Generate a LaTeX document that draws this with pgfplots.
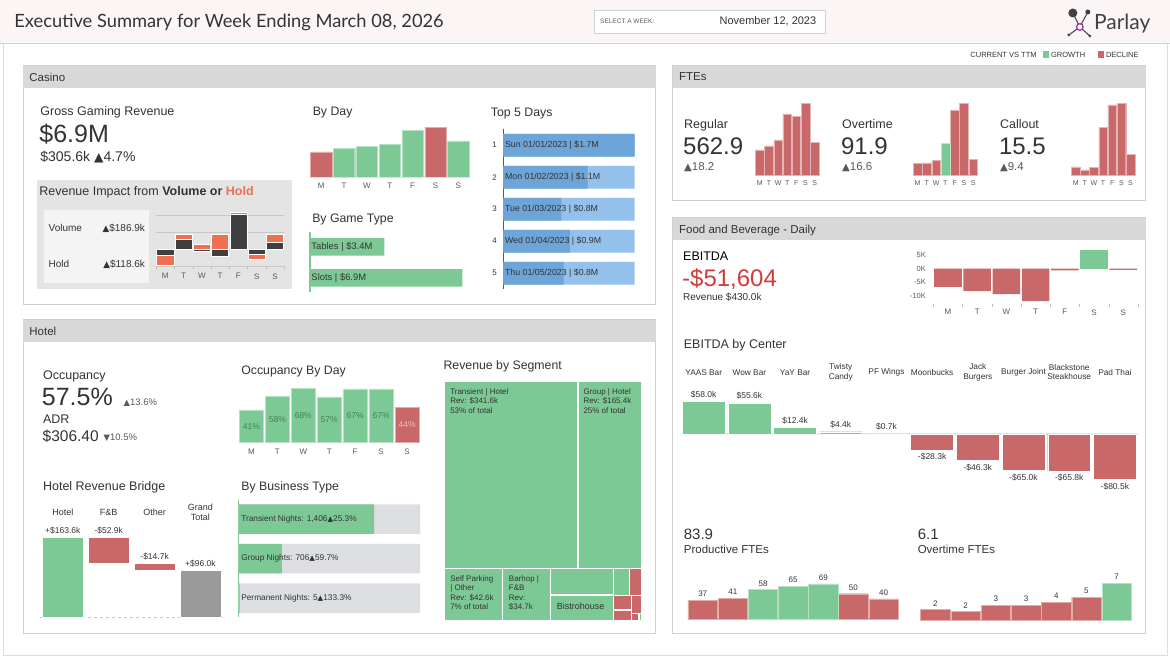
\documentclass[border=0pt]{standalone}
\usepackage{fontspec}
\setmainfont{Liberation Sans}
\newfontfamily\titlefont{Lato}
\newfontfamily\sym{DejaVu Sans}
\usepackage{graphicx}
\usepackage{pgfplots}
\pgfplotsset{compat=1.18}
\definecolor{grn}{HTML}{7DC995}
\definecolor{red1}{HTML}{C96868}
\definecolor{dk}{HTML}{404040}
\definecolor{org}{HTML}{EE7050}
\definecolor{bl1}{HTML}{93C1EC}
\definecolor{bl2}{HTML}{6EA5D9}
\definecolor{bln}{HTML}{2E5E8C}
\definecolor{txt}{HTML}{333333}
\definecolor{txt2}{HTML}{5A5A5A}
\definecolor{hdr}{HTML}{D8D8D8}
\definecolor{pbord}{HTML}{D0D0D0}
\definecolor{ebred}{HTML}{D23B3B}
\definecolor{hbg}{HTML}{FCF5F6}
\definecolor{gbox}{HTML}{E4E4E4}
\definecolor{gbox2}{HTML}{F4F4F4}
\definecolor{tk}{HTML}{BDBDBD}
\definecolor{gridc}{HTML}{C8C8C8}
\definecolor{bgbar}{HTML}{DCDEE2}
\definecolor{gtot}{HTML}{9A9A9A}
\definecolor{gtxt}{HTML}{467F5A}
\definecolor{ptxt}{HTML}{F6BDBD}
\definecolor{zl}{HTML}{E3E3E3}
\definecolor{purp}{HTML}{A0309A}
\newcommand{\fs}[2]{\fontsize{#1}{#2}\selectfont}
\newcommand{\up}{{\sym\scalebox{0.88}{▲}}}
\newcommand{\dn}{{\sym\scalebox{0.88}{▼}}}
\newcommand{\tx}[4][]{\node[anchor=west,inner sep=0,text depth=0pt,text=txt,#1] at (#2,658-#3) {#4};}
\newcommand{\panel}[5]{%
  \draw[pbord,line width=1pt,fill=white] (#1,658-#2) rectangle (#3,658-#4);
  \fill[hdr] (#1,658-#2) rectangle (#3,658-#2-22);
  \node[anchor=west,inner sep=0,text depth=0pt,text=txt] at (#1+6,658-#2-11) {\fs{11.5}{12}#5};}
\newcommand{\rbar}[5]{\addplot[fill=#5,draw=white,line width=0.5pt] coordinates {(#1,#3) (#2,#3) (#2,#4) (#1,#4)} -- cycle;}
\newcommand{\tbox}[5]{\addplot[fill=#5,draw=white,line width=1.2pt] coordinates {(#1,#3) (#2,#3) (#2,#4) (#1,#4)} -- cycle;}
\pgfplotsset{
  base/.style={scale only axis, clip=false, axis line style={draw=none},
    major tick length=0pt, tick align=outside, xtick pos=lower, ytick pos=left,
    ticklabel style={font=\fs{8}{8}, text=txt2},
    /pgf/number format/assume math mode=true, xtick=\empty, ytick=\empty},
  days/.style={xmin=0.5, xmax=7.5, xtick={1,...,7}, xticklabels={M,T,W,T,F,S,S}},
}
\begin{document}
\begin{tikzpicture}[x=1pt,y=1pt]
\fill[white] (0,0) rectangle (1170,658);
% header
\fill[hbg] (0,658) rectangle (1170,658-43);
\draw[pbord] (0,658-43.5) -- (1170,658-43.5);
\draw[pbord!70] (3,658-44) -- (3,658-655) -- (1167,658-655) -- (1167,658-44);
\tx{14}{21}{\titlefont\fs{18.3}{19}Executive Summary for Week Ending March 08, 2026}
\draw[pbord,fill=white] (594,658-10) rectangle (825,658-33);
\tx[text=txt2]{600}{21.5}{\fs{6.5}{7}SELECT A WEEK:}
\node[inner sep=0,text=txt] at (768,658-21) {\fs{11}{11}November 12, 2023};
% logo
\draw[dk,line width=1pt] (1073,658-13) -- (1080,658-27) -- (1088,658-12);
\draw[dk,line width=1pt] (1080,658-27) -- (1069,658-35);
\draw[dk,line width=1pt] (1080,658-27) -- (1090,658-36);
\fill[dk] (1073,658-13) circle (4.5);
\fill[dk] (1088,658-12) circle (2.5);
\fill[dk] (1069,658-35) circle (1.6);
\fill[dk] (1090,658-36) circle (1.6);
\draw[purp,fill=white,line width=1.2pt] (1080,658-27) circle (3.3);
\tx[text=dk]{1094}{22}{\titlefont\fs{21}{21}Parlay}
% legend
\node[anchor=east,inner sep=0,text=txt] at (1037,658-55) {\fs{7.5}{8}CURRENT VS TTM};
\fill[grn] (1043,658-51.5) rectangle (1049,658-58.5);
\tx{1051}{55}{\fs{7.5}{8}GROWTH}
\fill[red1] (1098,658-51.5) rectangle (1104,658-58.5);
\tx{1106}{55}{\fs{7.5}{8}DECLINE}
% panels
\panel{23}{66}{656}{305}{Casino}
\panel{23}{320}{656}{634}{Hotel}
\panel{673}{66}{1146}{201}{FTEs}
\panel{673}{218}{1146}{634}{Food and Beverage - Daily}

%================ CASINO
\tx{40}{111}{\fs{12.5}{13}Gross Gaming Revenue}
\tx{39}{133}{\fs{25}{25}\$6.9M}
\tx{40}{156}{\fs{14}{14}\$305.6k \up4.7\%}
\fill[gbox] (36.7,658-180) rectangle (291.5,658-289.3);
\fill[gbox2] (44,658-210) rectangle (149,658-283.3);
\tx{39}{191}{\fs{12.5}{13}Revenue Impact from \textbf{Volume or} \textcolor{org}{\textbf{Hold}}}
\tx{48.3}{228}{\fs{10}{10}Volume}
\node[anchor=east,inner sep=0,text depth=0pt,text=txt] at (145,658-228) {\fs{10}{10}\up\$186.9k};
\tx{48.3}{264}{\fs{10}{10}Hold}
\node[anchor=east,inner sep=0,text depth=0pt,text=txt] at (145,658-264) {\fs{10}{10}\up\$118.6k};

\begin{axis}[base, days, at={(156pt,658pt-266pt)}, anchor=south west, width=128, height=54,
  ymin=-17, ymax=37, ytick={-17,0,17,34}, yticklabels={}, ymajorgrids,
  grid style={draw=gridc,line width=0.6pt},
  extra x ticks={0.5,1.5,...,7.5}, extra x tick labels={},
  extra x tick style={major tick length=3pt, major tick style={draw=tk}},
  xticklabel style={yshift=-4pt}]
\rbar{0.53}{1.47}{0}{-6}{dk}
\rbar{0.53}{1.47}{-6}{-16.7}{org}
\rbar{1.53}{2.47}{0}{10}{dk}
\rbar{1.53}{2.47}{10}{14.7}{org}
\rbar{2.53}{3.47}{0}{5}{org}
\rbar{2.53}{3.47}{0}{-2}{dk}
\rbar{3.53}{4.47}{0}{15}{org}
\rbar{3.53}{4.47}{0}{-7.7}{dk}
\rbar{4.53}{5.47}{0}{34.7}{dk}
\rbar{4.53}{5.47}{34.7}{36.7}{org}
\rbar{5.53}{6.47}{0}{-5}{dk}
\rbar{5.53}{6.47}{-5}{-10}{org}
\rbar{6.53}{7.47}{0}{6.7}{dk}
\rbar{6.53}{7.47}{6.7}{14.7}{org}
\end{axis}

\tx{312.5}{111}{\fs{12.3}{13}By Day}
\begin{axis}[base, days, at={(309.7pt,658pt-177pt)}, anchor=south west, width=160, height=50,
  ymin=0, ymax=50, xticklabel style={yshift=-2.5pt}]
\addplot[ybar, bar width=21.3pt, bar shift=0pt, fill=red1, draw=red1!55!white] coordinates {(1,25) (6,49.7)};
\addplot[ybar, bar width=21.3pt, bar shift=0pt, fill=grn, draw=grn!55!white] coordinates {(2,28.3) (3,30.3) (4,32.3) (5,46.3) (7,36)};
\draw[gray!25] (rel axis cs:0,0) -- (rel axis cs:1,0);
\end{axis}

\tx{312}{218}{\fs{12.3}{13}By Game Type}
\begin{axis}[base, at={(309.7pt,658pt-292pt)}, anchor=south west, width=160, height=60,
  xmin=0, xmax=160, ymin=232, ymax=292, y dir=reverse,
  axis y line*=left, y axis line style={draw=grn,line width=1.5pt}]
\addplot[xbar, bar width=17.4pt, bar shift=0pt, fill=grn, draw=none] coordinates {(74.6,247) (152.6,278)};
\node[anchor=west,inner sep=0,text=txt] at (axis cs:1.5,247) {\fs{9.4}{10}Tables | \$3.4M};
\node[anchor=west,inner sep=0,text=txt] at (axis cs:1.5,278) {\fs{9.4}{10}Slots | \$6.9M};
\end{axis}

\tx{490.7}{112.7}{\fs{12.3}{13}Top 5 Days}
\begin{axis}[base, at={(503.3pt,658pt-289pt)}, anchor=south west, width=131.4, height=160,
  xmin=0, xmax=1.7, ymin=129, ymax=289, y dir=reverse,
  ytick={145.3,177.3,209.3,241.3,273.3}, yticklabels={1,2,3,4,5},
  yticklabel style={text=txt, xshift=-3pt},
  axis y line*=left, y axis line style={draw=bln,line width=1.5pt}]
\addplot[xbar, bar width=22.7pt, bar shift=0pt, fill=bl1, draw=none] coordinates {(1.7,145.3) (1.7,177.3) (1.7,209.3) (1.7,241.3) (1.7,273.3)};
\addplot[xbar, bar width=22.7pt, bar shift=0pt, fill=bl2, draw=none] coordinates {(1.7,145.3) (1.09,177.3) (0.75,209.3) (0.86,241.3) (0.78,273.3)};
\node[anchor=west,inner sep=0,text=txt] at (axis cs:0.02,145.3) {\fs{8.8}{9}Sun 01/01/2023 | \$1.7M};
\node[anchor=west,inner sep=0,text=txt] at (axis cs:0.02,177.3) {\fs{8.8}{9}Mon 01/02/2023 | \$1.1M};
\node[anchor=west,inner sep=0,text=txt] at (axis cs:0.02,209.3) {\fs{8.8}{9}Tue 01/03/2023 | \$0.8M};
\node[anchor=west,inner sep=0,text=txt] at (axis cs:0.02,241.3) {\fs{8.8}{9}Wed 01/04/2023 | \$0.9M};
\node[anchor=west,inner sep=0,text=txt] at (axis cs:0.02,273.3) {\fs{8.8}{9}Thu 01/05/2023 | \$0.8M};
\end{axis}

%================ FTEs
\tx{684}{124.3}{\fs{12.5}{13}Regular}
\tx{683}{146}{\fs{24}{24}562.9}
\tx[text=txt2]{684}{166.7}{\fs{11.5}{12}\up18.2}
\tx{842}{124.3}{\fs{12.5}{13}Overtime}
\tx{841}{146}{\fs{24}{24}91.9}
\tx[text=txt2]{842}{166.7}{\fs{11.5}{12}\up16.6}
\tx{1000}{124.3}{\fs{12.5}{13}Callout}
\tx{999}{146}{\fs{24}{24}15.5}
\tx[text=txt2]{1000}{166.7}{\fs{11.5}{12}\up9.4}

\begin{axis}[base, days, at={(755.3pt,658pt-175.3pt)}, anchor=south west, width=64, height=72,
  ymin=0, ymax=72, xticklabel style={font=\fs{7}{7}, yshift=-1.5pt}]
\addplot[ybar, bar width=8.6pt, bar shift=0pt, fill=red1, draw=red1!50!white] coordinates {(1,25.3) (2,29.3) (3,35.3) (4,61.3) (5,58.6) (6,72) (7,32.6)};
\end{axis}
\begin{axis}[base, days, at={(913pt,658pt-175.3pt)}, anchor=south west, width=65, height=72,
  ymin=0, ymax=72, xticklabel style={font=\fs{7}{7}, yshift=-1.5pt}]
\addplot[ybar, bar width=8.7pt, bar shift=0pt, fill=red1, draw=red1!50!white] coordinates {(1,11.6) (2,12.3) (3,15) (5,65.3) (6,72) (7,16)};
\addplot[ybar, bar width=8.7pt, bar shift=0pt, fill=grn, draw=grn!50!white] coordinates {(4,32)};
\end{axis}
\begin{axis}[base, days, at={(1071.3pt,658pt-175.3pt)}, anchor=south west, width=64, height=72,
  ymin=0, ymax=72, xticklabel style={font=\fs{7}{7}, yshift=-1.5pt}]
\addplot[ybar, bar width=8.6pt, bar shift=0pt, fill=red1, draw=red1!50!white] coordinates {(1,8.3) (2,5.3) (3,7.6) (4,47.6) (5,70.3) (6,72) (7,21)};
\end{axis}

%================ F&B
\tx[text=black]{683}{256.7}{\fs{12.5}{13}EBITDA}
\tx[text=ebred]{682}{277.3}{\fs{24}{24}-\$51,604}
\tx{683}{297.3}{\fs{10}{10}Revenue \$430.0k}
\begin{axis}[base, days, at={(933.5pt,658pt-304pt)}, anchor=south west, width=204.5, height=54.4,
  ymin=-13, ymax=7, ytick={-10,-5,0,5}, yticklabels={-10K,-5K,0K,5K},
  yticklabel style={font=\fs{7.5}{8}, xshift=-4pt},
  xticklabel style={yshift=-2pt},
  extra x ticks={0.5,1.5,...,7.5}, extra x tick labels={},
  extra x tick style={major tick length=3pt, major tick style={draw=tk}}]
\addplot[ybar, bar width=27.6pt, bar shift=0pt, fill=red1, draw=none] coordinates {(1,-6.7) (2,-8.3) (3,-9.4) (4,-12.0) (5,-0.7) (7,-0.5)};
\addplot[ybar, bar width=27.6pt, bar shift=0pt, fill=grn, draw=none] coordinates {(6,6.9)};
\end{axis}

\tx[text=txt]{683.7}{344.3}{\fs{12.5}{13}EBITDA by Center}
\begin{axis}[base, at={(680.9pt,658pt-482.1pt)}, anchor=south west, width=457, height=82.6,
  xmin=0.5, xmax=10.5, ymin=-85, ymax=62,
  xtick={1,...,10}, xticklabel pos=upper,
  xticklabels={YAAS Bar, Wow Bar, YaY Bar, {Twisty\\Candy}, PF Wings, Moonbucks, {Jack\\Burgers}, Burger Joint, {Blackstone\\Steakhouse}, Pad Thai},
  xticklabel style={anchor=center, align=center, yshift=27pt, font=\fs{8.3}{9.3}, text=txt},
  extra y ticks={0}, extra y tick labels={},
  extra y tick style={ymajorgrids=true, major grid style={draw=zl,line width=2pt}},
  nodes near coords, point meta=explicit symbolic,
  every node near coord/.append style={font=\fs{8.5}{9}, text=txt}]
\addplot[ybar, bar width=43pt, bar shift=0pt, fill=grn, draw=white] coordinates {(1,58.0) [\$58.0k] (2,55.6) [\$55.6k] (3,12.4) [\$12.4k] (4,4.4) [\$4.4k] (5,0.7) [\$0.7k]};
\addplot[ybar, bar width=43pt, bar shift=0pt, fill=red1, draw=white,
  every node near coord/.append style={anchor=north}] coordinates {(6,-28.3) [-\$28.3k] (7,-46.3) [-\$46.3k] (8,-65.0) [-\$65.0k] (9,-65.8) [-\$65.8k] (10,-80.5) [-\$80.5k]};
\end{axis}

\tx{683.7}{534}{\fs{15}{15}83.9}
\tx{683.7}{549.3}{\fs{11.5}{12}Productive FTEs}
\tx{917.7}{534}{\fs{15}{15}6.1}
\tx{917.7}{549.3}{\fs{11.5}{12}Overtime FTEs}
\begin{axis}[base, at={(687.7pt,658pt-619.7pt)}, anchor=south west, width=211, height=36.05,
  xmin=0.5, xmax=7.5, ymin=0, ymax=70,
  nodes near coords, point meta=explicit symbolic,
  every node near coord/.append style={font=\fs{8}{8}, text=txt}]
\addplot[ybar, bar width=29.5pt, bar shift=0pt, fill=red1, draw=red1!55!white] coordinates {(1,37) [37] (2,41) [41] (6,50) [50] (7,40) [40]};
\addplot[ybar, bar width=29.5pt, bar shift=0pt, fill=grn, draw=grn!55!white] coordinates {(3,58) [58] (4,65) [65] (5,69) [69]};
\end{axis}
\begin{axis}[base, at={(920.3pt,658pt-620.3pt)}, anchor=south west, width=211.7, height=40,
  xmin=0.5, xmax=7.5, ymin=0, ymax=8,
  nodes near coords, point meta=explicit symbolic,
  every node near coord/.append style={font=\fs{8}{8}, text=txt}]
\addplot[ybar, bar width=29.5pt, bar shift=0pt, fill=red1, draw=red1!55!white] coordinates {(1,2.1) [2] (2,1.7) [2] (3,2.9) [3] (4,2.9) [3] (5,3.6) [4] (6,4.6) [5]};
\addplot[ybar, bar width=29.5pt, bar shift=0pt, fill=grn, draw=grn!55!white] coordinates {(7,7.4) [7]};
\end{axis}

%================ HOTEL
\tx{42.7}{375}{\fs{12.5}{13}Occupancy}
\tx{41.5}{397.3}{\fs{25}{25}57.5\%}
\tx[text=txt2]{123.3}{402.5}{\fs{9.5}{10}\up13.6\%}
\tx{42.7}{419}{\fs{12.5}{13}ADR}
\tx{42.3}{436}{\fs{15.5}{16}\$306.40}
\tx[text=txt2]{103.3}{437}{\fs{9.5}{10}\dn10.5\%}
\tx{42.7}{486}{\fs{12.5}{13}Hotel Revenue Bridge}
\begin{axis}[base, at={(39.7pt,658pt-617.3pt)}, anchor=south west, width=183.6, height=82.5,
  xmin=0.5, xmax=4.5, ymin=0, ymax=170,
  xtick={1,2,3,4}, xticklabel pos=upper, xticklabels={Hotel, F\&B, Other, {Grand\\Total}},
  xticklabel style={anchor=center, align=center, yshift=22.5pt, font=\fs{9}{10.5}, text=txt},
  extra y ticks={0}, extra y tick labels={},
  extra y tick style={ymajorgrids=true, major grid style={draw=gray!45,dashed,line width=0.6pt}}]
\rbar{0.557}{1.443}{0}{163.6}{grn}
\rbar{1.557}{2.443}{110.7}{163.6}{red1}
\rbar{2.557}{3.443}{96.0}{110.7}{red1}
\rbar{3.557}{4.443}{0}{96.0}{gtot}
\node[above,text=txt,font=\fs{8.5}{9}] at (axis cs:1,163.6) {+\$163.6k};
\node[above,text=txt,font=\fs{8.5}{9}] at (axis cs:2,163.6) {-\$52.9k};
\node[above,text=txt,font=\fs{8.5}{9}] at (axis cs:3,110.7) {-\$14.7k};
\node[above,text=txt,font=\fs{8.5}{9}] at (axis cs:4,96.0) {+\$96.0k};
\end{axis}

\tx{241}{370.7}{\fs{12.3}{13}Occupancy By Day}
\begin{axis}[base, days, at={(238.3pt,658pt-442.7pt)}, anchor=south west, width=181.7, height=56,
  ymin=0, ymax=70, xticklabel style={yshift=-2.5pt}]
\addplot[ybar, bar width=24.5pt, bar shift=0pt, fill=grn, draw=grn!55!white] coordinates {(1,41) (2,58) (3,68) (4,57) (5,67) (6,67)};
\addplot[ybar, bar width=24.5pt, bar shift=0pt, fill=red1, draw=red1!55!white] coordinates {(7,44)};
\node[text=gtxt,font=\fs{8.5}{9}] at (axis cs:1,20.5) {41\%};
\node[text=gtxt,font=\fs{8.5}{9}] at (axis cs:2,29) {58\%};
\node[text=gtxt,font=\fs{8.5}{9}] at (axis cs:3,34) {68\%};
\node[text=gtxt,font=\fs{8.5}{9}] at (axis cs:4,28.5) {57\%};
\node[text=gtxt,font=\fs{8.5}{9}] at (axis cs:5,33.5) {67\%};
\node[text=gtxt,font=\fs{8.5}{9}] at (axis cs:6,33.5) {67\%};
\node[text=ptxt,font=\fs{8.5}{9}] at (axis cs:7,22) {44\%};
\end{axis}

\tx{241}{486.7}{\fs{12.3}{13}By Business Type}
\begin{axis}[base, at={(238.3pt,658pt-617.3pt)}, anchor=south west, width=181.7, height=117.3,
  xmin=0, xmax=100, ymin=500, ymax=617.3, y dir=reverse,
  axis y line*=left, y axis line style={draw=grn,line width=1.5pt}]
\addplot[xbar, bar width=29.5pt, bar shift=0pt, fill=bgbar, draw=none] coordinates {(100,519.2) (100,558.7) (100,598.3)};
\addplot[xbar, bar width=29.5pt, bar shift=0pt, fill=grn, draw=none] coordinates {(74.7,519.2) (23.9,558.7) (0.6,598.3)};
\node[anchor=west,inner sep=0,text=txt] at (axis cs:1.5,519.2) {\fs{8.3}{9}Transient Nights: 1,406\up25.3\%};
\node[anchor=west,inner sep=0,text=txt] at (axis cs:1.5,558.7) {\fs{8.3}{9}Group Nights: 706\up59.7\%};
\node[anchor=west,inner sep=0,text=txt] at (axis cs:1.5,598.3) {\fs{8.3}{9}Permanent Nights: 5\up133.3\%};
\end{axis}

\tx{443.3}{365}{\fs{12.3}{13}Revenue by Segment}
\begin{axis}[base, at={(444pt,658pt-620.7pt)}, anchor=south west, width=198, height=239,
  xmin=444, xmax=642, ymin=381.7, ymax=620.7, y dir=reverse]
\tbox{444}{578}{381.7}{569}{grn}
\tbox{578}{642}{381.7}{569}{grn}
\tbox{444}{502.3}{569}{620.7}{grn}
\tbox{502.3}{550.5}{569}{620.7}{grn}
\tbox{550.5}{613.3}{569}{595.3}{grn}
\tbox{550.5}{613.3}{595.3}{620.7}{grn}
\tbox{613.3}{629.5}{569}{595.7}{grn}
\tbox{629.5}{642}{569}{596}{red1}
\tbox{613.3}{631.5}{595.7}{610.3}{red1}
\tbox{613.3}{631.5}{610.3}{620.7}{red1}
\tbox{631.5}{642}{596}{613.5}{red1}
\tbox{631.5}{639}{613.5}{620.7}{red1}
\tbox{639}{642}{613.5}{620.7}{grn}
\end{axis}
\node[anchor=north west,inner sep=0,align=left,text=txt,font=\fs{8}{9.5}] at (450,658-388.3) {Transient | Hotel\\Rev: \$341.6k\\53\% of total};
\node[anchor=north west,inner sep=0,align=left,text=txt,font=\fs{8}{9.5}] at (583.3,658-388.3) {Group | Hotel\\Rev: \$165.4k\\25\% of total};
\node[anchor=north west,inner sep=0,align=left,text=txt,font=\fs{8}{9.5}] at (450,658-575.5) {Self Parking\\| Other\\Rev: \$42.6k\\7\% of total};
\node[anchor=north west,inner sep=0,align=left,text=txt,font=\fs{8}{9.5}] at (508.7,658-575.5) {Barhop |\\F\&B\\Rev:\\\$34.7k};
\tx{556.7}{606.7}{\fs{9}{9}Bistrohouse}
\end{tikzpicture}
\end{document}
